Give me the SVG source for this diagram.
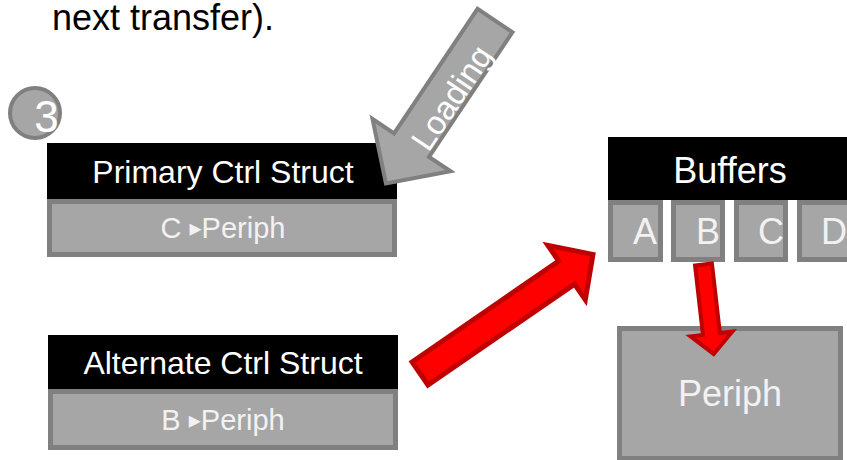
<svg xmlns="http://www.w3.org/2000/svg" width="847" height="460" viewBox="0 0 847 460">
  <style>
    text { font-family: "Liberation Sans", Arial, "DejaVu Sans", sans-serif; }
    .hdr { fill: #000000; }
    .box { fill: #a6a6a6; stroke: #808080; stroke-width: 5; }
    .wt { fill: #ffffff; text-anchor: middle; }
    .lt { fill: #f2f2f2; text-anchor: middle; }
    .tri { font-size: 24px; }
    .red { fill: #ff0000; stroke: #c00000; stroke-linejoin: miter; }
    .gray { fill: #a6a6a6; stroke: #808080; stroke-width: 4; }
  </style>

  <!-- caption fragment -->
  <text x="52" y="30" font-size="36" fill="#000000">next transfer).</text>

  <!-- step badge -->
  <g id="badge">
    <circle cx="35" cy="113" r="25" fill="#a6a6a6" stroke="#808080" stroke-width="4"/>
    <text class="wt" x="46.5" y="132" font-size="44">3</text>
  </g>

  <g id="primary">
    <rect class="hdr" x="47" y="143" width="350" height="56"/>
    <text class="wt" x="223" y="183" font-size="32">Primary Ctrl Struct</text>
    <rect class="box" x="49.5" y="201.5" width="345" height="53"/>
    <text class="lt" x="223" y="238" font-size="29">C <tspan class="tri" dy="-2">▸</tspan><tspan dy="2">Periph</tspan></text>
  </g>

  <g id="alternate">
    <rect class="hdr" x="48" y="335" width="350" height="54"/>
    <text class="wt" x="223" y="374" font-size="32">Alternate Ctrl Struct</text>
    <rect class="box" x="50.5" y="391.5" width="345" height="56"/>
    <text class="lt" x="223" y="430" font-size="29">B <tspan class="tri" dy="-2">▸</tspan><tspan dy="2">Periph</tspan></text>
  </g>

  <g id="buffers">
    <rect class="hdr" x="608" y="137" width="250" height="63"/>
    <text class="wt" x="730" y="183" font-size="36">Buffers</text>
    <rect class="box" x="610.5" y="202.5" width="50" height="57"/>
    <rect class="box" x="673.5" y="202.5" width="49" height="57"/>
    <rect class="box" x="736.5" y="202.5" width="49" height="57"/>
    <rect class="box" x="799.5" y="202.5" width="55" height="57"/>
    <text class="lt" x="645" y="244" font-size="36">A</text>
    <text class="lt" x="708" y="244" font-size="36">B</text>
    <text class="lt" x="771" y="244" font-size="36">C</text>
    <text class="lt" x="834" y="244" font-size="36">D</text>
  </g>

  <g id="periph">
    <rect class="box" x="619.5" y="328.5" width="221" height="130"/>
    <text class="lt" x="730" y="406" font-size="36">Periph</text>
  </g>

  <g id="connectors">
    <!-- loading arrow into the primary structure -->
    <g transform="translate(495,20.5) rotate(123.8)">
      <polygon class="gray" points="0,-21 150,-21 150,-47 196,0 150,47 150,21 0,21"/>
    </g>
    <text class="wt" font-size="33" transform="translate(452,98) rotate(-56.2)" x="0" y="11">Loading</text>

    <!-- alternate structure to buffers -->
    <g transform="translate(420,373.5) rotate(-34.55)">
      <polygon class="red" stroke-width="5" points="0,-14 178,-14 178,-33 210,0 178,33 178,14 0,14"/>
    </g>

    <!-- buffer B to peripheral -->
    <g transform="translate(703.5,264.5) rotate(83.5)">
      <polygon class="red" stroke-width="4" points="0,-8.5 70,-8.5 70,-21 90,0 70,21 70,8.5 0,8.5"/>
    </g>
  </g>
</svg>
